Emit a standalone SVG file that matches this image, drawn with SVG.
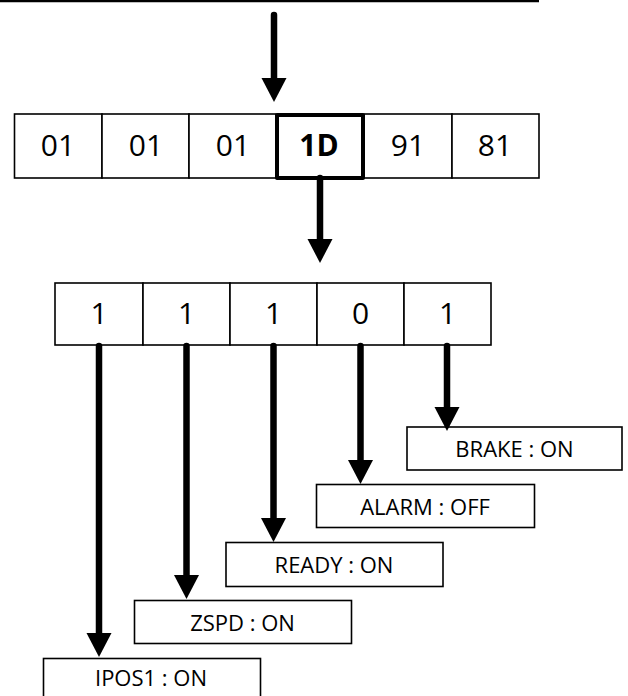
<svg xmlns="http://www.w3.org/2000/svg" width="628" height="696" viewBox="0 0 628 696">
  <defs>
    <marker id="ah" markerUnits="userSpaceOnUse" markerWidth="25" markerHeight="26" refX="0" refY="12.5" orient="auto" overflow="visible">
      <path d="M0,0 L24,12.5 L0,25 Z" fill="#000"/>
    </marker>
    <style>
      .cell { fill: #fff; stroke: #000; stroke-width: 1.6; }
      .sel { fill: #fff; stroke: #000; stroke-width: 4; stroke-linejoin: round; }
      .lbl { fill: #fff; stroke: #000; stroke-width: 1.6; }
      .d { font-family: "Open Sans", "Noto Sans", sans-serif; font-size: 30px; fill: #000; text-anchor: middle; }
      .b { font-weight: bold; }
      .t { font-family: "Open Sans", "Noto Sans", sans-serif; font-size: 22px; fill: #000; text-anchor: middle; }
      .arr { stroke: #000; stroke-width: 6.5; stroke-linecap: round; fill: none; marker-end: url(#ah); }
    </style>
  </defs>
  <rect width="628" height="696" fill="#fff"/>
  <line x1="0" y1="1" x2="539" y2="1" stroke="#000" stroke-width="2.4"/>

  <g id="byte-row">
    <g id="b0"><rect class="cell" x="14.5" y="114" width="87.5" height="64"/><text class="d" x="58" y="155.5">01</text></g>
    <g id="b1"><rect class="cell" x="102" y="114" width="87" height="64"/><text class="d" x="146" y="155.5">01</text></g>
    <g id="b2"><rect class="cell" x="189" y="114" width="87" height="64"/><text class="d" x="233" y="155.5">01</text></g>
    <g id="b4"><rect class="cell" x="364" y="114" width="88" height="64"/><text class="d" x="408" y="155.5">91</text></g>
    <g id="b5"><rect class="cell" x="452" y="114" width="87" height="64"/><text class="d" x="495" y="155.5">81</text></g>
    <g id="b3"><rect class="sel" x="277" y="115" width="86" height="63"/><text class="d b" x="319" y="155.5">1D</text></g>
  </g>

  <g id="bit-row">
    <g id="bit0"><rect class="cell" x="55" y="283" width="88" height="62"/><text class="d" x="99" y="323.5">1</text></g>
    <g id="bit1"><rect class="cell" x="143" y="283" width="87" height="62"/><text class="d" x="186.5" y="323.5">1</text></g>
    <g id="bit2"><rect class="cell" x="230" y="283" width="87" height="62"/><text class="d" x="273.5" y="323.5">1</text></g>
    <g id="bit3"><rect class="cell" x="317" y="283" width="87" height="62"/><text class="d" x="360.5" y="323.5">0</text></g>
    <g id="bit4"><rect class="cell" x="404" y="283" width="87" height="62"/><text class="d" x="447.5" y="323.5">1</text></g>
  </g>

  <g id="brake"><rect class="lbl" x="407" y="427" width="215" height="43"/><text class="t" x="514.5" y="457">BRAKE : ON</text></g>
  <g id="alarm"><rect class="lbl" x="316.5" y="484.5" width="218" height="43"/><text class="t" x="425" y="515">ALARM : OFF</text></g>
  <g id="ready"><rect class="lbl" x="226" y="542.5" width="217" height="44"/><text class="t" x="334" y="573">READY : ON</text></g>
  <g id="zspd"><rect class="lbl" x="134.5" y="600.5" width="217" height="43"/><text class="t" x="242.5" y="631">ZSPD : ON</text></g>
  <g id="ipos1"><rect class="lbl" x="43.5" y="658.5" width="217" height="44"/><text class="t" x="151" y="686">IPOS1 : ON</text></g>

  <g id="connectors">
    <line class="arr" x1="274" y1="15" x2="274" y2="78"/>
    <line class="arr" x1="320" y1="178" x2="320" y2="239"/>
    <line class="arr" x1="99" y1="346" x2="99" y2="633"/>
    <line class="arr" x1="186.5" y1="346" x2="186.5" y2="575"/>
    <line class="arr" x1="273.5" y1="346" x2="273.5" y2="518"/>
    <line class="arr" x1="360.5" y1="346" x2="360.5" y2="460"/>
    <line class="arr" x1="447" y1="346" x2="447" y2="407"/>
  </g>
</svg>
